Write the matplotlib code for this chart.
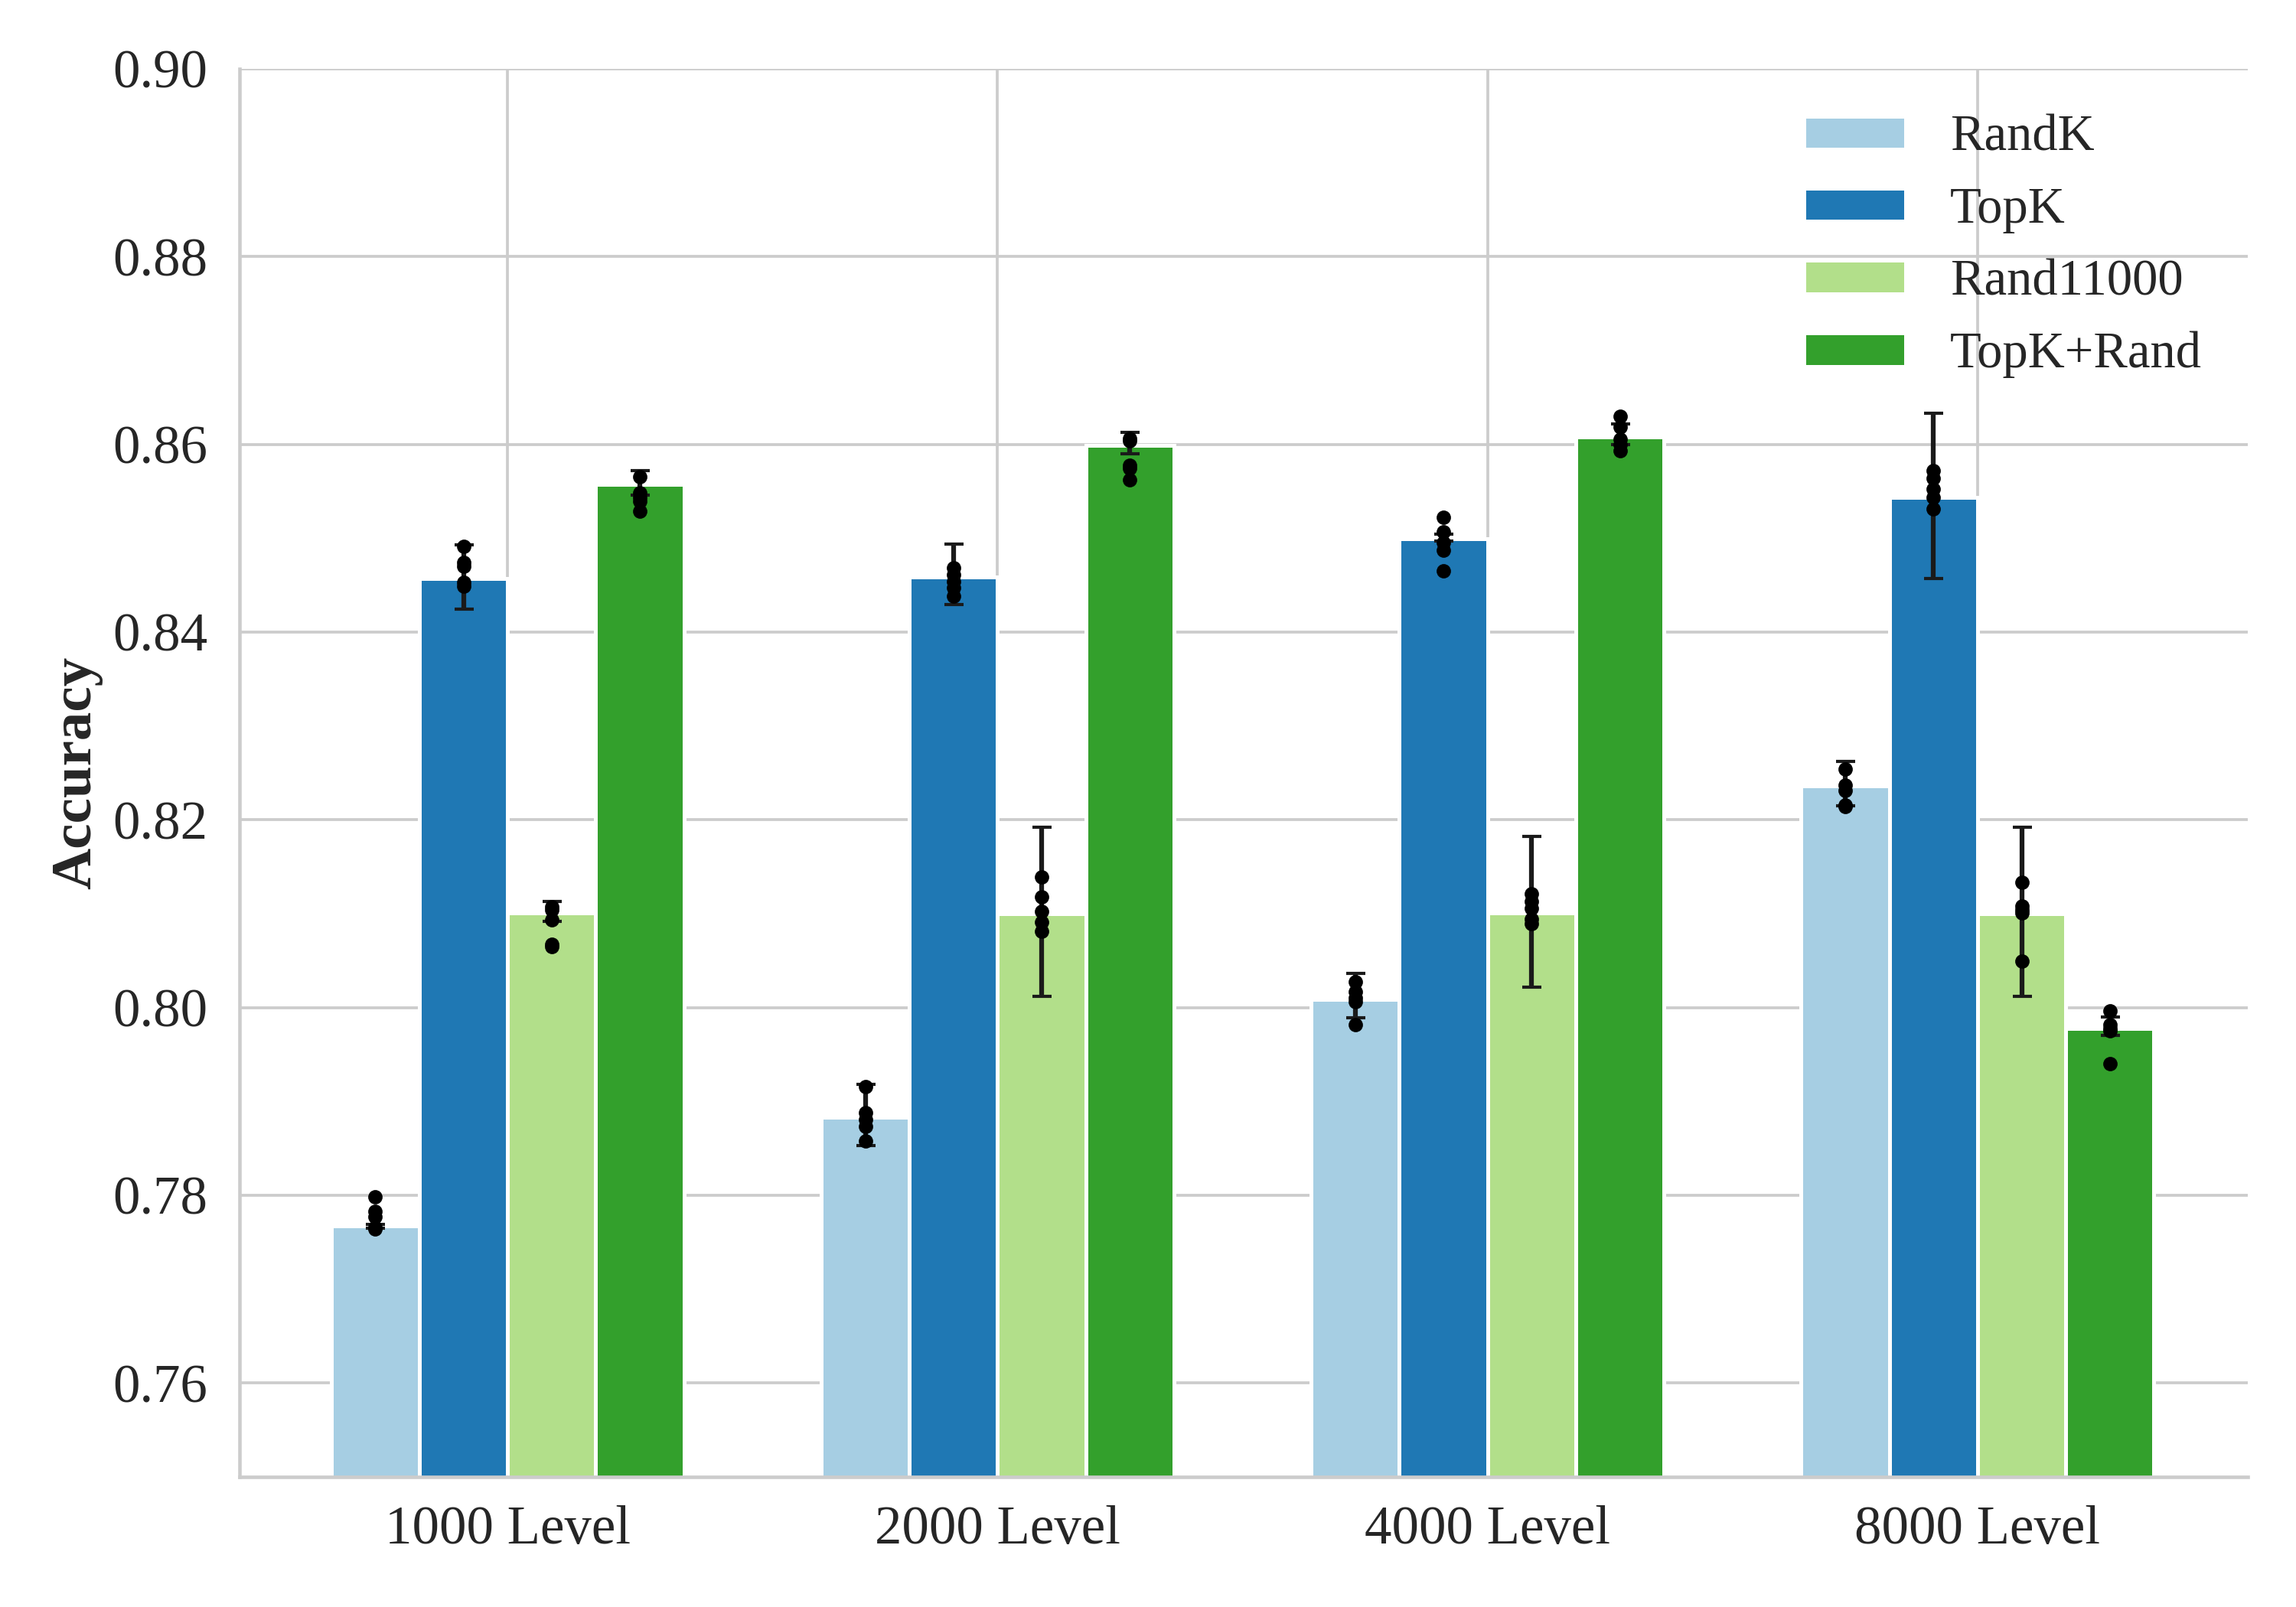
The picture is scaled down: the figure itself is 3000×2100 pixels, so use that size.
import numpy as np
import matplotlib
matplotlib.use("Agg")
import matplotlib.pyplot as plt

plt.rcParams['font.family'] = ['Liberation Serif', 'DejaVu Serif']

categories = ["1000 Level", "2000 Level", "4000 Level", "8000 Level"]
methods = ["RandK", "TopK", "Rand11000", "TopK+Rand"]
colors = ["#a6cee3", "#1f78b4", "#b2df8a", "#33a02c"]

# bar heights per method, per level
bar_randk = [0.7767, 0.7883, 0.8009, 0.8236]
bar_topk = [0.8457, 0.8459, 0.8499, 0.8543]
bar_rand11000 = [0.8101, 0.8100, 0.8101, 0.8100]
bar_topk_rand = [0.8557, 0.8599, 0.8608, 0.7978]

# error bar (low, high) per method, per level
err_randk = [(0.7765, 0.7769), (0.7853, 0.7918), (0.7989, 0.8036), (0.8215, 0.8262)]
err_topk = [(0.8424, 0.8493), (0.8429, 0.8494), (0.8497, 0.8504), (0.8457, 0.8633)]
err_rand11000 = [(0.8092, 0.8113), (0.8012, 0.8192), (0.8022, 0.8182), (0.8012, 0.8192)]
err_topk_rand = [(0.8546, 0.8572), (0.8590, 0.8613), (0.8600, 0.8622), (0.7970, 0.7990)]

# individual runs per method, per level
pts_randk = [[0.7798, 0.7783, 0.7777, 0.7766, 0.7764],
             [0.7916, 0.7888, 0.7881, 0.7873, 0.7858],
             [0.8027, 0.8017, 0.8010, 0.8006, 0.7982],
             [0.8254, 0.8237, 0.8231, 0.8216, 0.8214]]
pts_topk = [[0.8491, 0.8474, 0.8470, 0.8453, 0.8449],
            [0.8468, 0.8461, 0.8454, 0.8447, 0.8438],
            [0.8522, 0.8507, 0.8495, 0.8487, 0.8465],
            [0.8572, 0.8564, 0.8552, 0.8543, 0.8531]]
pts_rand11000 = [[0.8107, 0.8104, 0.8093, 0.8067, 0.8065],
                 [0.8139, 0.8118, 0.8102, 0.8091, 0.8081],
                 [0.8121, 0.8113, 0.8106, 0.8094, 0.8089],
                 [0.8133, 0.8108, 0.8104, 0.8101, 0.8049]]
pts_topk_rand = [[0.8565, 0.8548, 0.8543, 0.8539, 0.8529],
                 [0.8606, 0.8604, 0.8578, 0.8574, 0.8562],
                 [0.8630, 0.8618, 0.8605, 0.8600, 0.8593],
                 [0.7996, 0.7982, 0.7978, 0.7975, 0.7940]]

bars = [bar_randk, bar_topk, bar_rand11000, bar_topk_rand]
errs = [err_randk, err_topk, err_rand11000, err_topk_rand]
pts = [pts_randk, pts_topk, pts_rand11000, pts_topk_rand]

fig = plt.figure(figsize=(10, 7), dpi=300)
ax = fig.add_axes([0.1043, 0.081, 0.8746, 0.8762])

x = np.arange(len(categories))
w = 0.18
text_color = "#262626"
for i, m in enumerate(methods):
    xs = x + (i - 1.5) * w
    ax.bar(xs, bars[i], width=w, color=colors[i], edgecolor="white",
           linewidth=1.2, label=m, zorder=2)
    lo = np.array([e[0] for e in errs[i]])
    hi = np.array([e[1] for e in errs[i]])
    ax.errorbar(xs, (lo + hi) / 2, yerr=(hi - lo) / 2, fmt="none",
                ecolor="#1a1a1a", elinewidth=1.5, capsize=3, capthick=1.0,
                zorder=3)
    for j in range(len(categories)):
        ax.plot([xs[j]] * len(pts[i][j]), pts[i][j], "o", color="black",
                markersize=4.5, markeredgewidth=0, zorder=4)

ax.set_xlim(-0.547, 3.551)
ax.set_ylim(0.75, 0.90)
yt = [0.76, 0.78, 0.80, 0.82, 0.84, 0.86, 0.88, 0.90]
ax.set_yticks(yt)
ax.set_yticklabels([f"{v:.2f}" for v in yt])
ax.set_xticks(x)
ax.set_xticklabels(categories)
ax.tick_params(axis="both", length=0, labelsize=17, colors=text_color)
ax.tick_params(axis="y", pad=10)
ax.tick_params(axis="x", pad=9)
ax.set_ylabel("Accuracy", fontsize=18, fontweight="bold", color=text_color, labelpad=3)

ax.set_axisbelow(True)
ax.grid(True, color="#cccccc", linewidth=0.9)
for s in ["top", "right"]:
    ax.spines[s].set_visible(False)
for s in ["left", "bottom"]:
    ax.spines[s].set_color("#cccccc")
    ax.spines[s].set_linewidth(1.1)

leg = ax.legend(loc="upper right", frameon=False, fontsize=16,
                handlelength=2.0, handleheight=0.62, handletextpad=0.86,
                labelspacing=0.5)
for t in leg.get_texts():
    t.set_color(text_color)

fig.savefig("out.png", dpi=300)
